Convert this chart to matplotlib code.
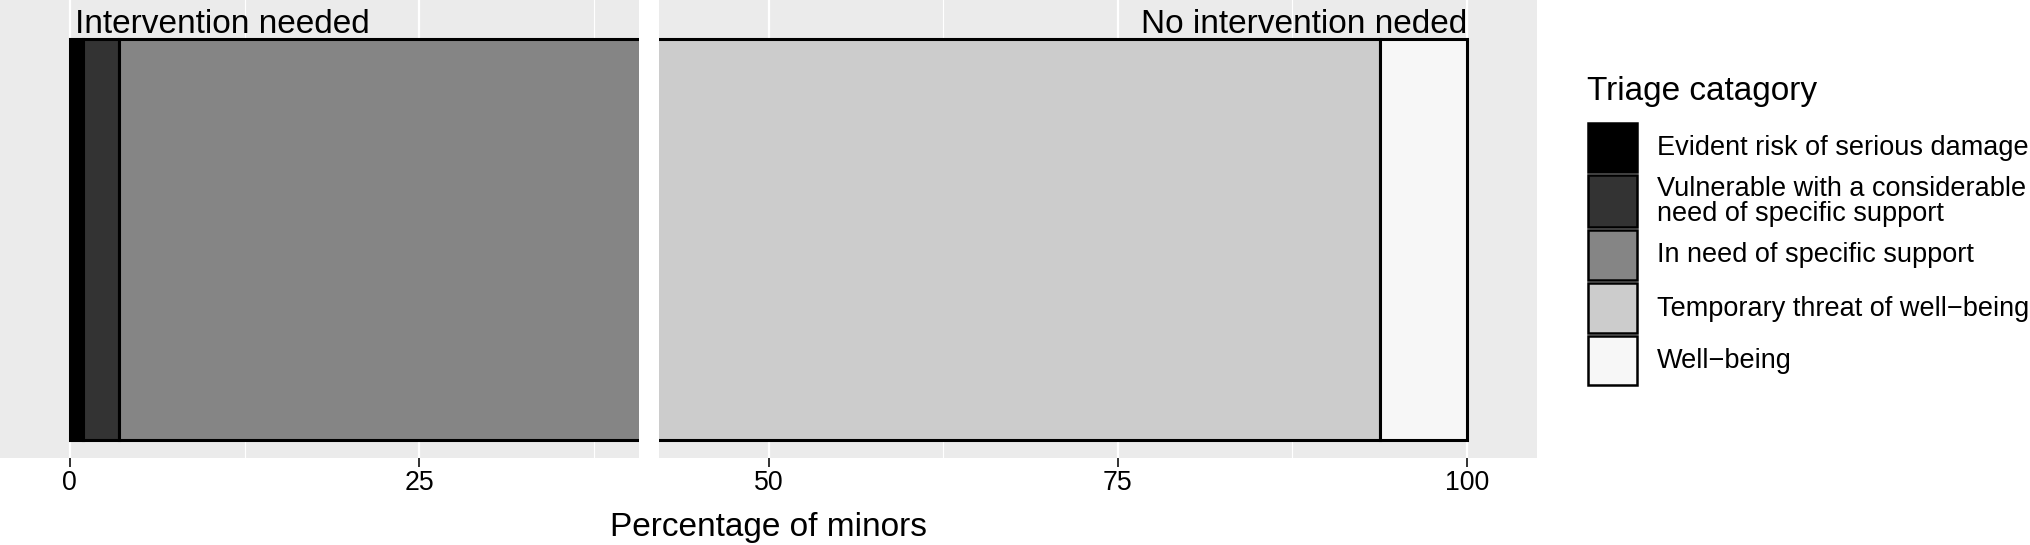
import matplotlib
matplotlib.use("Agg")
import matplotlib.pyplot as plt
from matplotlib.patches import Rectangle
import numpy as np

plt.rcParams['font.family'] = ['Liberation Sans', 'DejaVu Sans']

# data
categories = ["Evident risk of serious damage",
              "Vulnerable with a considerable\nneed of specific support",
              "In need of specific support",
              "Temporary threat of well\u2212being",
              "Well\u2212being"]
shares = [0.95, 2.55, 37.95, 52.28, 6.27]          # percent of minors
fills = ["#000000", "#333333", "#858585", "#cccccc", "#f7f7f7"]
xticks = [0, 25, 50, 75, 100]
xtick_labels = ["0", "25", "50", "75", "100"]
gap_at = 41.45        # split between "intervention" and "no intervention"
gap_width = 1.43

W, H = 2031, 545
fig = plt.figure(figsize=(W / 100, H / 100), dpi=100)
ax = fig.add_axes([0, 1 - 458 / H, 1537 / W, 458 / H])
ax.set_facecolor("#ebebeb")

left = np.concatenate([[0], np.cumsum(shares)[:-1]])
ax.barh(0, shares, left=left, height=1.0, color=fills,
        edgecolor="black", linewidth=2.2, zorder=2)

# white separator band
ax.axvspan(gap_at - gap_width / 2, gap_at + gap_width / 2,
           color="white", lw=0, zorder=3)

ax.set_xlim(-5, 105)
ax.set_ylim(-0.545, 0.5986)

ax.set_xticks(xticks)
ax.set_xticklabels(xtick_labels)
ax.set_xticks([12.5, 37.5, 62.5, 87.5], minor=True)
ax.set_yticks([])
ax.grid(which="major", axis="x", color="white", lw=1.6, zorder=0)
ax.grid(which="minor", axis="x", color="white", lw=0.8, zorder=0)
ax.set_axisbelow(True)
ax.tick_params(axis="x", which="major", length=6.5, width=1.3, color="#222222",
               labelsize=19.2, labelcolor="black", pad=2)
ax.tick_params(axis="x", which="minor", length=0)
for s in ax.spines.values():
    s.set_visible(False)

ax.text(0.35, 0.516, "Intervention needed", fontsize=24,
        ha="left", va="baseline", zorder=4)
ax.text(100, 0.516, "No intervention neded", fontsize=24,
        ha="right", va="baseline", zorder=4)

fig.text(768 / W, 1 - 536 / H, "Percentage of minors", fontsize=24,
         ha="center", va="baseline")

# legend drawn in pixel coordinates
lax = fig.add_axes([0, 0, 1, 1])
lax.set_xlim(0, W)
lax.set_ylim(H, 0)
lax.axis("off")
lax.text(1587, 100, "Triage catagory", fontsize=24, ha="left", va="baseline")
key_heights = [52, 55, 53, 53, 52]
top = 121
for lab, col, kh in zip(categories, fills, key_heights):
    lax.add_patch(Rectangle((1588, top + 1.5), 49, kh - 3, facecolor=col,
                            edgecolor="black", lw=1.8))
    lax.text(1657, top + kh / 2 + 1, lab, fontsize=19.5, ha="left",
             va="center", linespacing=0.95)
    top += kh

fig.savefig("out.png", dpi=100)
